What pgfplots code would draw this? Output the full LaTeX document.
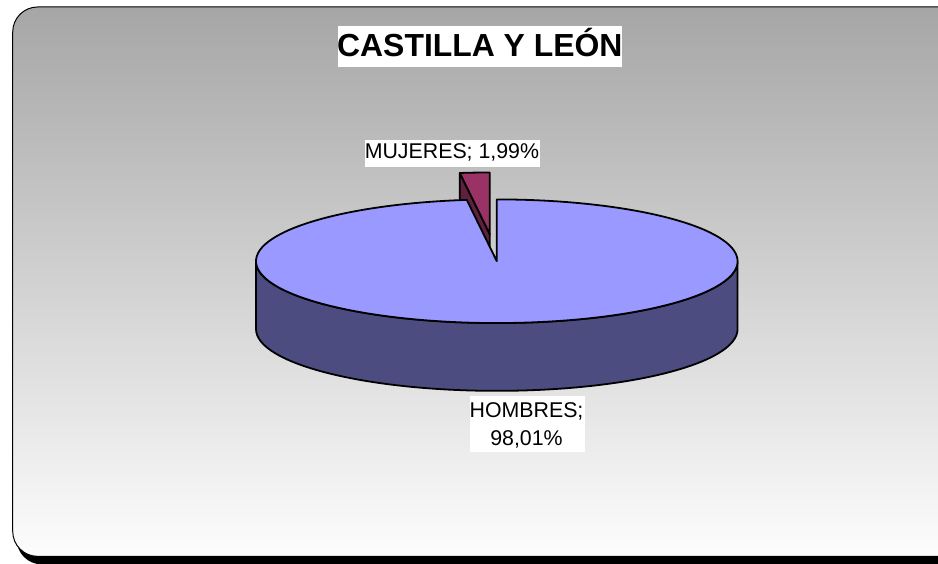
\documentclass[border=0pt]{standalone}
\usepackage{pgfplots}
\usepackage{pgfplotstable}
\pgfplotsset{compat=1.18}
\usepackage{fontspec}
\setmainfont{Liberation Sans}

\definecolor{hombtop}{RGB}{153,153,255}
\definecolor{hombside}{RGB}{76,76,128}
\definecolor{mujtop}{RGB}{153,51,102}
\definecolor{mujside}{RGB}{96,32,64}
\definecolor{bgtop}{RGB}{166,166,166}
\definecolor{bgbot}{RGB}{253,253,253}

% pie data (percent)
\pgfplotstableread{
label   value
HOMBRES 98.01
MUJERES 1.99
}\piedata

\begin{document}
\pgfplotstablegetelem{1}{value}\of\piedata
\let\vM\pgfplotsretval
\pgfmathsetmacro\aM{90+3.6*\vM}% end angle of MUJERES slice
% pie geometry, in pixels of the picture
\def\cx{495.5}\def\cy{262}\def\rx{241.5}\def\ry{62}\def\dep{68}
\def\ox{-7}\def\oy{-27}% explode offset of MUJERES
\begin{tikzpicture}
\useasboundingbox (0,0) rectangle (938bp,565bp);
\clip (0,0) rectangle (938bp,565bp);
\begin{axis}[
    at={(0,0)}, anchor=south west,
    width=938bp, height=565bp, scale only axis,
    xmin=0, xmax=938, ymin=0, ymax=565, y dir=reverse,
    hide axis, clip=false]
  % frame
  \fill[black, rounded corners=25bp] (axis cs:14,12) rectangle (axis cs:975,566);
  \shade[top color=bgtop, bottom color=bgbot, rounded corners=25bp,
         draw=black, line width=1bp] (axis cs:10,7) rectangle (axis cs:970,558);
  \begin{scope}[line width=1.8bp, line join=round, draw=black]
  % MUJERES radial face
  \filldraw[fill=mujside]
    (axis cs:{\cx+\ox},{\cy+\oy})
    -- (axis cs:{\cx+\ox+\rx*cos(\aM)},{\cy+\oy-\ry*sin(\aM)})
    -- (axis cs:{\cx+\ox+\rx*cos(\aM)},{\cy+\oy+\dep-\ry*sin(\aM)})
    -- (axis cs:{\cx+\ox},{\cy+\oy+\dep}) -- cycle;
  % MUJERES top
  \filldraw[fill=mujtop]
    (axis cs:{\cx+\ox},{\cy+\oy})
    -- (axis cs:{\cx+\ox},{\cy+\oy-\ry})
    arc[start angle=90, end angle=\aM, x radius=\rx bp, y radius=\ry bp]
    -- cycle;
  % HOMBRES side
  \filldraw[fill=hombside]
    (axis cs:{\cx-\rx},\cy)
    arc[start angle=180, end angle=360, x radius=\rx bp, y radius=\ry bp]
    -- (axis cs:{\cx+\rx},{\cy+\dep})
    arc[start angle=360, end angle=180, x radius=\rx bp, y radius=\ry bp]
    -- cycle;
  % HOMBRES top
  \filldraw[fill=hombtop]
    (axis cs:\cx,\cy)
    -- (axis cs:{\cx+\rx*cos(\aM)},{\cy-\ry*sin(\aM)})
    arc[start angle=\aM, end angle=450, x radius=\rx bp, y radius=\ry bp]
    -- cycle;
  \end{scope}
  % title
  \fill[white] (axis cs:336,26) rectangle (axis cs:621,67);
  \node[anchor=base, inner sep=0pt, font=\bfseries\fontsize{32bp}{32bp}\selectfont]
    at (axis cs:478.5,57) {CASTILLA Y LEÓN};
  % labels
  \fill[white] (axis cs:363,140) rectangle (axis cs:539,167);
  \node[anchor=base, inner sep=0pt, font=\fontsize{21.4bp}{24bp}\selectfont]
    at (axis cs:450.5,159.3) {MUJERES; 1,99\%};
  \fill[white] (axis cs:469,397) rectangle (axis cs:584,453);
  \node[anchor=base, inner sep=0pt, font=\fontsize{21.4bp}{24bp}\selectfont]
    at (axis cs:525.3,418.3) {HOMBRES;};
  \node[anchor=base, inner sep=0pt, font=\fontsize{21.4bp}{24bp}\selectfont]
    at (axis cs:525.3,446.7) {98,01\%};
\end{axis}
\end{tikzpicture}
\end{document}
